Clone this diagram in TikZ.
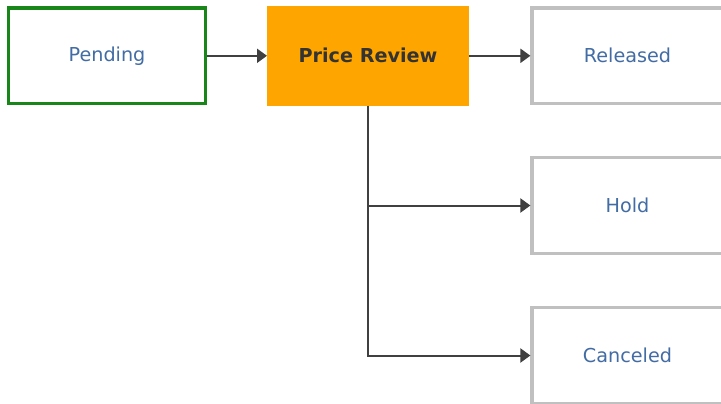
\documentclass[tikz,border=0pt]{standalone}
\usepackage{fontspec}
\setmainfont{DejaVu Sans}
\usetikzlibrary{arrows.meta}
\definecolor{txtblue}{RGB}{66,108,164}
\definecolor{pgreen}{RGB}{24,134,24}
\definecolor{bgray}{RGB}{192,192,192}
\definecolor{porange}{RGB}{255,165,0}
\definecolor{conncol}{RGB}{64,64,64}
\definecolor{darktxt}{RGB}{51,51,51}
\tikzset{
  statebox/.style={rectangle, draw=bgray, line width=3.2pt, fill=white,
    text=txtblue, font=\fontsize{19.2}{22}\selectfont,
    minimum width=191pt, minimum height=95.5pt, inner sep=0pt},
  startbox/.style={statebox, draw=pgreen, minimum width=197pt},
  activebox/.style={rectangle, fill=porange, draw=none, text=darktxt,
    font=\fontsize{19.2}{22}\selectfont\bfseries,
    minimum width=202pt, minimum height=100pt, inner sep=0pt, outer sep=0pt},
  conn/.style={draw=conncol, line width=2pt,
    -{Triangle[length=10pt,width=14pt]}, color=conncol},
}
\begin{document}
\begin{tikzpicture}[x=1pt,y=-1pt]
\useasboundingbox (0,0) rectangle (721,404);
\fill[white] (0,0) rectangle (721,404);
\clip (0,0) rectangle (721,404);
\node[startbox] (pending) at (107,55.8) {Pending};
\node[activebox] (review) at (368,55.8) {Price Review};
\node[statebox] (released) at (627.5,55.8) {Released};
\node[statebox] (hold) at (627.5,205.5) {Hold};
\node[statebox] (canceled) at (627.5,355.5) {Canceled};
\draw[conn] (pending.east) -- (review.west);
\draw[conn] (review.east) -- (released.west);
\draw[conn] (review.south) |- (hold.west);
\draw[conn] (review.south) |- (canceled.west);
\end{tikzpicture}
\end{document}
